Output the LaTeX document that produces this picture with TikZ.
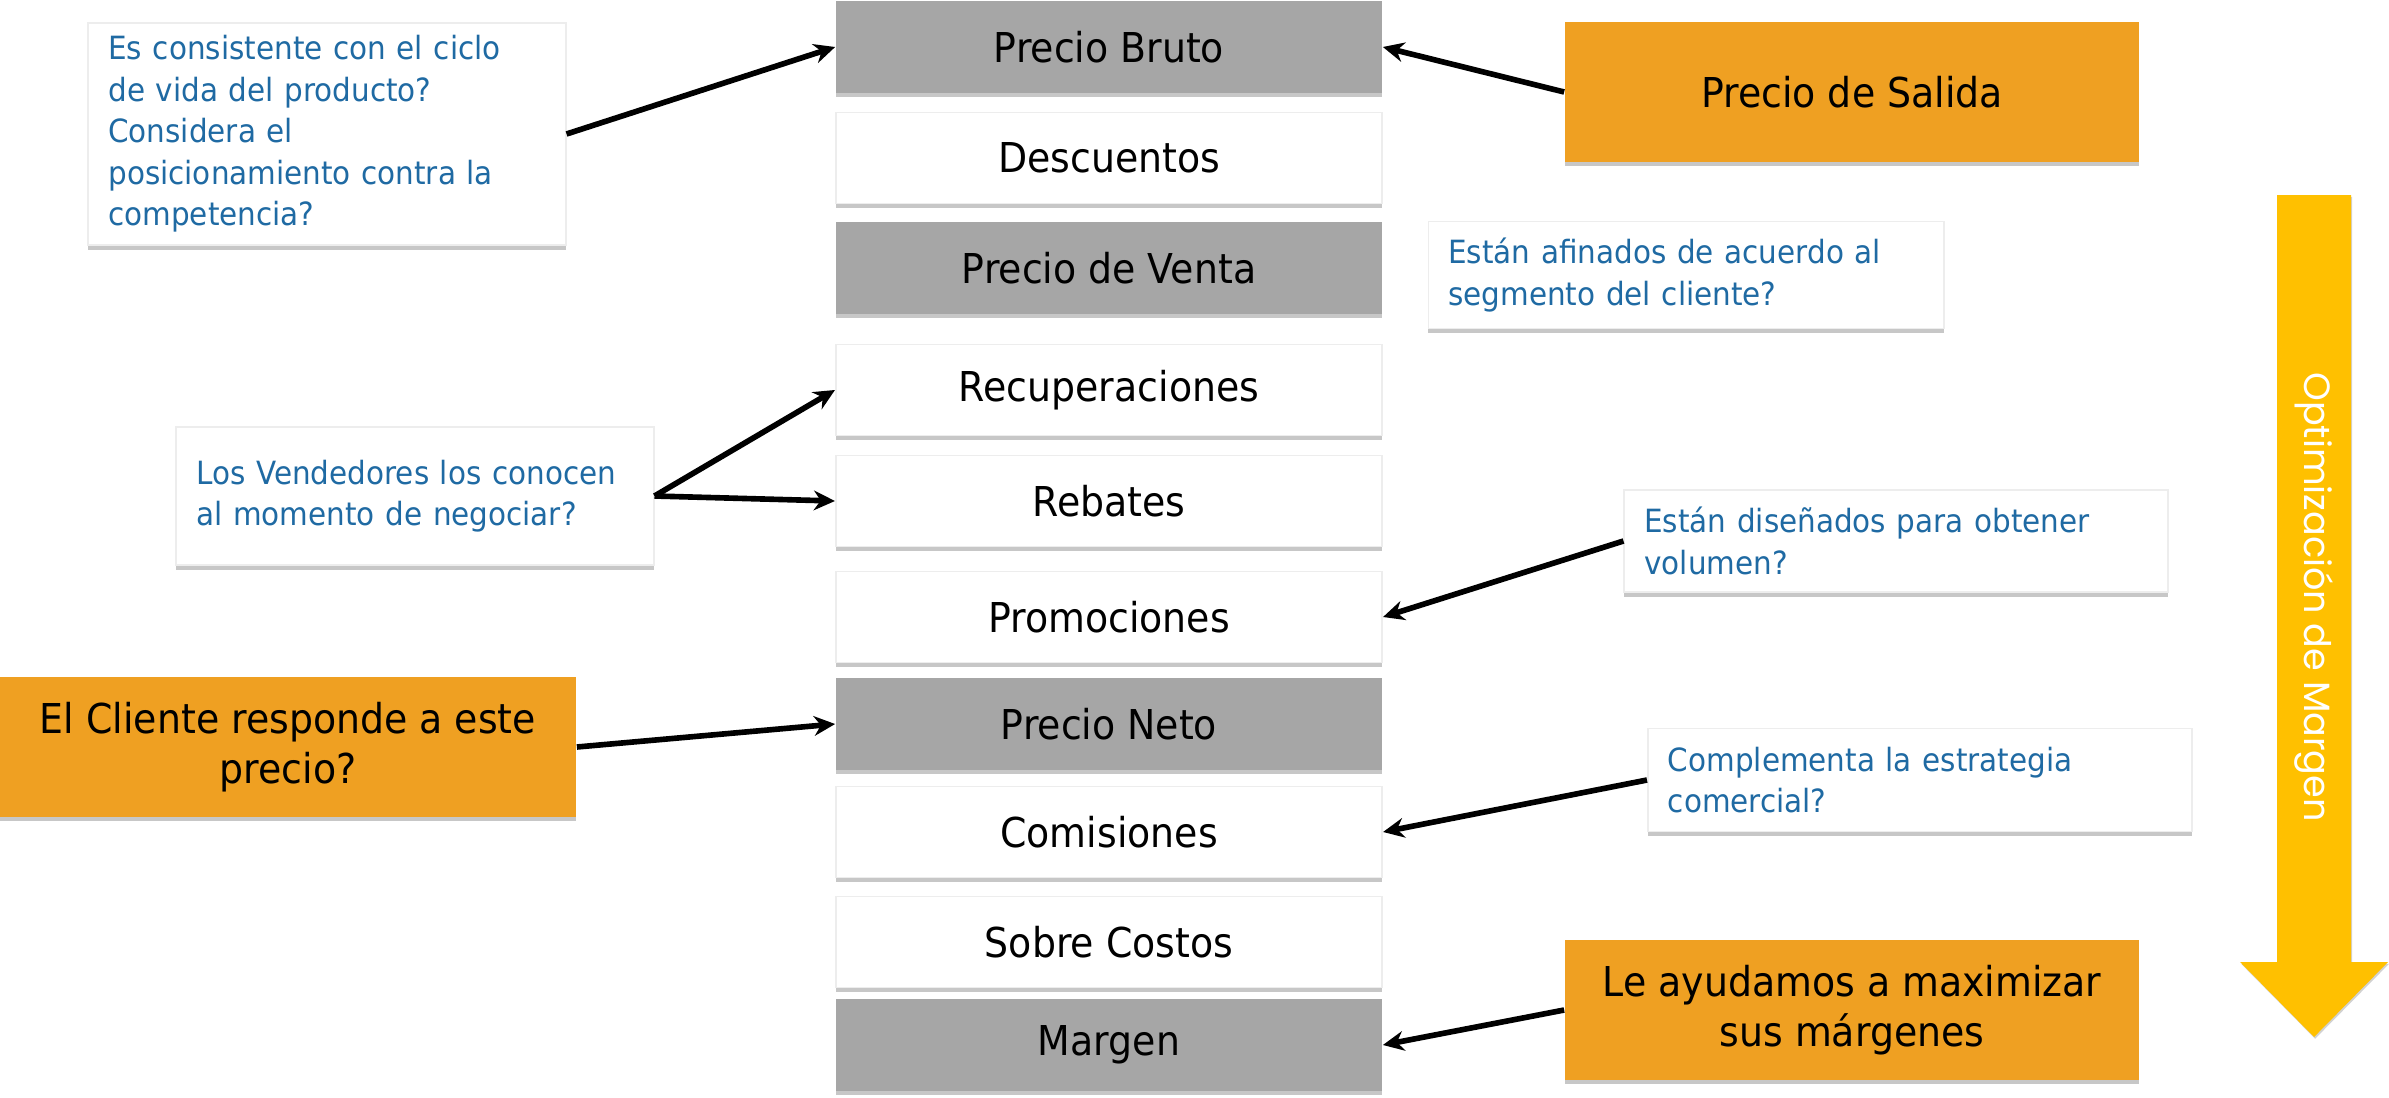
\documentclass[tikz,border=0pt]{standalone}
\usepackage{fontspec}
\setmainfont[FakeStretch=0.92]{DejaVu Sans}
\newfontfamily\arrowfont{Poppins}
\usetikzlibrary{arrows.meta,shadows}

\definecolor{boxgray}{RGB}{166,166,166}
\definecolor{boxorange}{RGB}{239,160,34}
\definecolor{arrowgold}{RGB}{255,192,0}
\definecolor{askblue}{RGB}{31,106,163}

\tikzset{
  softshadow/.style={drop shadow={shadow xshift=0pt, shadow yshift=-1.3pt, opacity=0.22, fill=black}},
  pricebox/.style={minimum width=5.46cm, minimum height=0.91cm, inner sep=0pt,
    font=\fontsize{11.7}{14}\selectfont, softshadow},
  grossbox/.style={pricebox, fill=boxgray},
  costbox/.style={pricebox, fill=white, draw=black!7, line width=0.5pt},
  orangebox/.style={fill=boxorange, minimum height=1.39cm, inner sep=0pt, align=center,
    font=\fontsize{11.7}{14.3}\selectfont, softshadow},
  askbox/.style={fill=white, draw=black!7, line width=0.5pt, text=askblue, align=left,
    inner xsep=0.2cm, inner ysep=0pt, font=\fontsize{9.1}{11.8}\selectfont, softshadow},
  conn/.style={line width=1.6pt, -{Stealth[length=6pt, width=5.6pt]}}
}

\begin{document}
\begin{tikzpicture}[x=0.01cm, y=-0.01cm]
\useasboundingbox (0,0) rectangle (2389,1097);

% Price waterfall
\node[grossbox] (bruto) at (1109,47) {Precio Bruto};
\node[costbox] (descuentos) at (1109,158) {Descuentos};
\node[grossbox] (venta) at (1109,268) {Precio de Venta};
\node[costbox] (recuperaciones) at (1109,390) {Recuperaciones};
\node[costbox] (rebates) at (1109,501) {Rebates};
\node[costbox] (promociones) at (1109,617) {Promociones};
\node[grossbox] (neto) at (1109,724) {Precio Neto};
\node[costbox] (comisiones) at (1109,832) {Comisiones};
\node[costbox] (sobrecostos) at (1109,942) {Sobre Costos};
\node[grossbox] (margen) at (1109,1045) {Margen};

% Orange boxes
\node[orangebox, minimum width=5.74cm] (salida) at (1852,92) {Precio de Salida};
\node[orangebox, minimum width=5.76cm] (cliente) at (288,747) {El Cliente responde a este\\precio?};
\node[orangebox, minimum width=5.74cm] (ayudamos) at (1852,1010) {Le ayudamos a maximizar\\sus márgenes};

% Questions
\node[askbox, minimum width=4.77cm, minimum height=2.22cm, text width=4.37cm] (ciclo) at (327,134)
  {Es consistente con el ciclo\\de vida del producto?\\Considera el\\posicionamiento contra la\\competencia?};
\node[askbox, minimum width=5.15cm, minimum height=1.07cm, text width=4.75cm] (afinados) at (1686,275)
  {Están afinados de acuerdo al\\segmento del cliente?};
\node[askbox, minimum width=4.77cm, minimum height=1.38cm, text width=4.37cm] (vendedores) at (415,496)
  {Los Vendedores los conocen\\al momento de negociar?};
\node[askbox, minimum width=5.43cm, minimum height=1.02cm, text width=5.03cm] (disenados) at (1896,541)
  {Están diseñados para obtener\\volumen?};
\node[askbox, minimum width=5.44cm, minimum height=1.03cm, text width=5.04cm] (complementa) at (1920,780)
  {Complementa la estrategia\\comercial?};

% Connectors
\draw[conn] (ciclo.east) -- (bruto.west);
\draw[conn] (salida.west) -- (bruto.east);
\draw[conn] (vendedores.east) -- (recuperaciones.west);
\draw[conn] (vendedores.east) -- (rebates.west);
\draw[conn] (disenados.west) -- (promociones.east);
\draw[conn] (cliente.east) -- (neto.west);
\draw[conn] (complementa.west) -- (comisiones.east);
\draw[conn] (ayudamos.west) -- (margen.east);

% Big arrow
\fill[arrowgold, drop shadow={shadow xshift=0.3pt, shadow yshift=-0.5pt, opacity=0.18, fill=black}]
  (2277,195) -- (2351,195) -- (2351,962) -- (2388,962) -- (2314,1037)
  -- (2240,962) -- (2277,962) -- cycle;
\node[rotate=-90, text=white, font=\arrowfont\fontsize{10.4}{12}\selectfont] (optim) at (2314,597)
  {Optimización de Margen};

\end{tikzpicture}
\end{document}
